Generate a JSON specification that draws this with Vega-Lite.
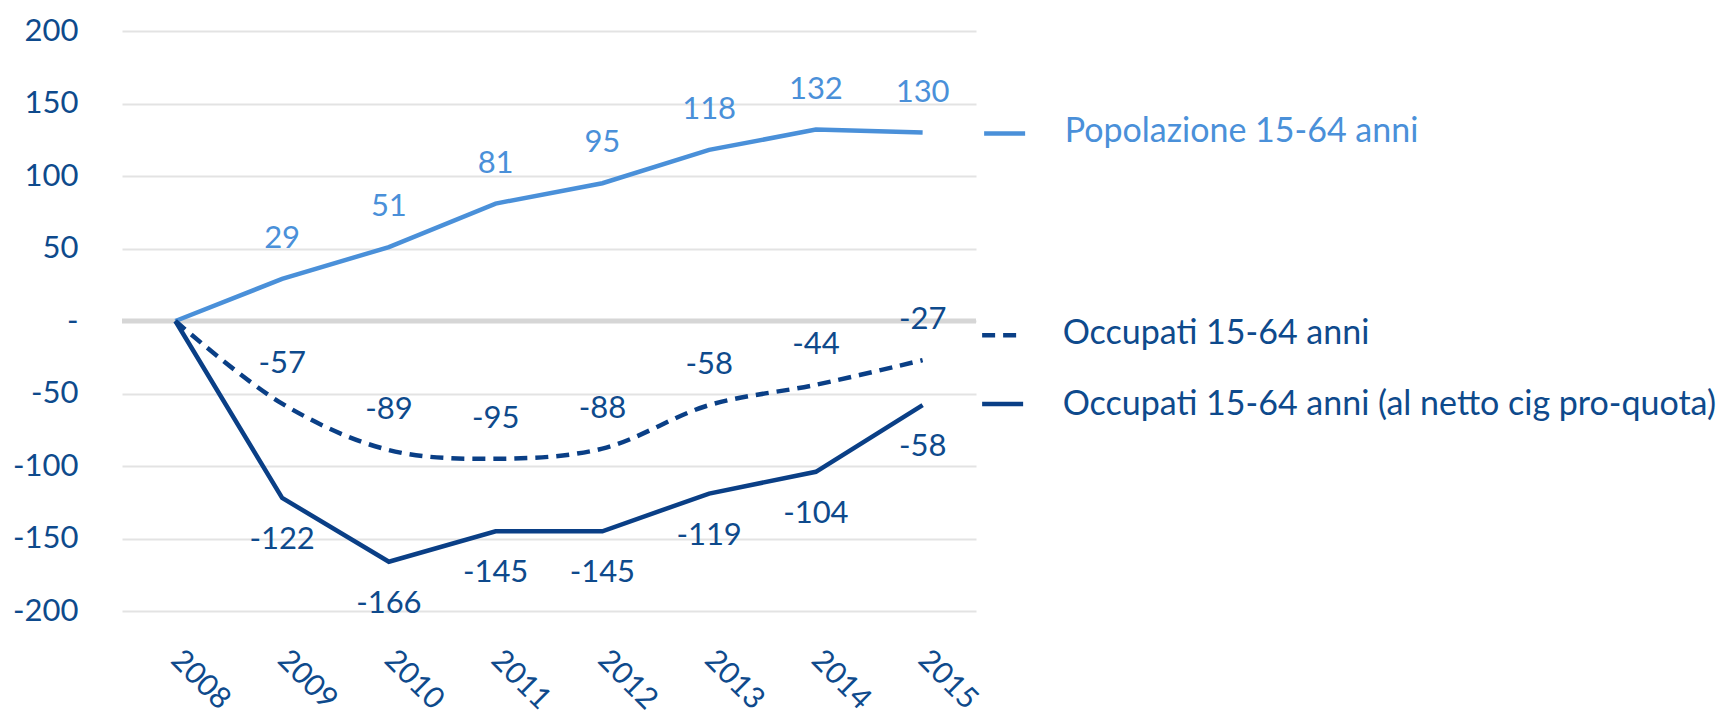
{
  "$schema": "https://vega.github.io/schema/vega-lite/v6.json",
  "width": 854,
  "height": 580,
  "padding": {"left": 12, "top": 15, "right": 5, "bottom": 0},
  "background": "white",
  "config": {"view": {"stroke": null}, "font": "Lato", "text": {"font": "Lato"}},
  "datasets": {
    "main": [
      {"year": 2008, "series": "Popolazione 15-64 anni", "value": 0},
      {"year": 2009, "series": "Popolazione 15-64 anni", "value": 29},
      {"year": 2010, "series": "Popolazione 15-64 anni", "value": 51},
      {"year": 2011, "series": "Popolazione 15-64 anni", "value": 81},
      {"year": 2012, "series": "Popolazione 15-64 anni", "value": 95},
      {"year": 2013, "series": "Popolazione 15-64 anni", "value": 118},
      {"year": 2014, "series": "Popolazione 15-64 anni", "value": 132},
      {"year": 2015, "series": "Popolazione 15-64 anni", "value": 130},
      {"year": 2008, "series": "Occupati 15-64 anni", "value": 0},
      {"year": 2009, "series": "Occupati 15-64 anni", "value": -57},
      {"year": 2010, "series": "Occupati 15-64 anni", "value": -89},
      {"year": 2011, "series": "Occupati 15-64 anni", "value": -95},
      {"year": 2012, "series": "Occupati 15-64 anni", "value": -88},
      {"year": 2013, "series": "Occupati 15-64 anni", "value": -58},
      {"year": 2014, "series": "Occupati 15-64 anni", "value": -44},
      {"year": 2015, "series": "Occupati 15-64 anni", "value": -27},
      {"year": 2008, "series": "Occupati 15-64 anni (al netto cig pro-quota)", "value": 0},
      {"year": 2009, "series": "Occupati 15-64 anni (al netto cig pro-quota)", "value": -122},
      {"year": 2010, "series": "Occupati 15-64 anni (al netto cig pro-quota)", "value": -166},
      {"year": 2011, "series": "Occupati 15-64 anni (al netto cig pro-quota)", "value": -145},
      {"year": 2012, "series": "Occupati 15-64 anni (al netto cig pro-quota)", "value": -145},
      {"year": 2013, "series": "Occupati 15-64 anni (al netto cig pro-quota)", "value": -119},
      {"year": 2014, "series": "Occupati 15-64 anni (al netto cig pro-quota)", "value": -104},
      {"year": 2015, "series": "Occupati 15-64 anni (al netto cig pro-quota)", "value": -58}
    ]
  },
  "data": {"name": "main"},
  "layer": [
    {
      "data": {"values": [{"ref": 0}]},
      "mark": {"type": "rule", "color": "#D6D6D6", "strokeWidth": 5},
      "encoding": {
        "y": {"field": "ref", "type": "quantitative", "scale": {"domain": [-200, 200], "nice": false, "zero": false},
          "axis": {"values": [-200, -150, -100, -50, 0, 50, 100, 150, 200], "title": null, "domain": false, "ticks": false, "tickSize": 0,
            "grid": true, "gridColor": "#E3E3E3", "gridWidth": 2, "labelFontSize": 31, "labelColor": "#0E4A8C", "labelPadding": 44,
            "labelExpr": "datum.value == 0 ? '-' : '' + datum.value"}}
      }
    },
    {
      "transform": [{"filter": "datum.series == 'Popolazione 15-64 anni'"}],
      "mark": {"type": "line", "color": "#4A90D9", "strokeWidth": 4.5},
      "encoding": {
        "x": {"field": "year", "type": "quantitative", "scale": {"domain": [2007.5, 2015.5], "nice": false, "zero": false},
          "axis": {"values": [2008, 2009, 2010, 2011, 2012, 2013, 2014, 2015], "format": "d", "title": null, "domain": false, "ticks": false, "tickSize": 0,
            "grid": false, "labelFontSize": 30, "labelColor": "#0E4A8C", "labelAngle": 45, "labelAlign": "left", "labelBaseline": "middle", "labelPadding": 44}},
        "y": {"field": "value", "type": "quantitative"}
      }
    },
    {
      "transform": [{"filter": "datum.series == 'Occupati 15-64 anni'"}],
      "mark": {"type": "line", "color": "#0A3F86", "strokeWidth": 4.5, "strokeDash": [13, 8], "interpolate": "catmull-rom"},
      "encoding": {
        "x": {"field": "year", "type": "quantitative"},
        "y": {"field": "value", "type": "quantitative"}
      }
    },
    {
      "transform": [{"filter": "datum.series == 'Occupati 15-64 anni (al netto cig pro-quota)'"}],
      "mark": {"type": "line", "color": "#0A3F86", "strokeWidth": 4.5},
      "encoding": {
        "x": {"field": "year", "type": "quantitative"},
        "y": {"field": "value", "type": "quantitative"}
      }
    },
    {
      "transform": [{"filter": "datum.series == 'Popolazione 15-64 anni' && datum.year > 2008"}],
      "mark": {"type": "text", "color": "#4A90D9", "fontSize": 31, "dy": -40, "baseline": "middle", "align": "center"},
      "encoding": {
        "x": {"field": "year", "type": "quantitative"},
        "y": {"field": "value", "type": "quantitative"},
        "text": {"field": "value", "type": "nominal"}
      }
    },
    {
      "transform": [{"filter": "datum.series == 'Occupati 15-64 anni' && datum.year > 2008"}],
      "mark": {"type": "text", "color": "#0E4A8C", "fontSize": 31, "dy": -40, "baseline": "middle", "align": "center"},
      "encoding": {
        "x": {"field": "year", "type": "quantitative"},
        "y": {"field": "value", "type": "quantitative"},
        "text": {"field": "value", "type": "nominal"}
      }
    },
    {
      "transform": [{"filter": "datum.series == 'Occupati 15-64 anni (al netto cig pro-quota)' && datum.year > 2008"}],
      "mark": {"type": "text", "color": "#0E4A8C", "fontSize": 31, "dy": 42, "baseline": "middle", "align": "center"},
      "encoding": {
        "x": {"field": "year", "type": "quantitative"},
        "y": {"field": "value", "type": "quantitative"},
        "text": {"field": "value", "type": "nominal"}
      }
    },
    {
      "transform": [{"filter": "datum.series == 'Popolazione 15-64 anni' && datum.year == 2015"}],
      "mark": {"type": "point", "shape": "M-1,0L1,0", "size": 1681, "filled": false, "opacity": 1, "stroke": "#4A90D9", "strokeWidth": 4.5, "xOffset": 82, "yOffset": 1},
      "encoding": {
        "x": {"field": "year", "type": "quantitative"},
        "y": {"field": "value", "type": "quantitative"}
      }
    },
    {
      "transform": [{"filter": "datum.series == 'Occupati 15-64 anni' && datum.year == 2015"}],
      "mark": {"type": "point", "shape": "M-1,0L1,0", "size": 1369, "filled": false, "opacity": 1, "stroke": "#0A3F86", "strokeWidth": 4.5, "strokeDash": [13, 8], "xOffset": 78, "yOffset": -25},
      "encoding": {
        "x": {"field": "year", "type": "quantitative"},
        "y": {"field": "value", "type": "quantitative"}
      }
    },
    {
      "transform": [{"filter": "datum.series == 'Occupati 15-64 anni (al netto cig pro-quota)' && datum.year == 2015"}],
      "mark": {"type": "point", "shape": "M-1,0L1,0", "size": 1681, "filled": false, "opacity": 1, "stroke": "#0A3F86", "strokeWidth": 4.5, "xOffset": 80, "yOffset": -1},
      "encoding": {
        "x": {"field": "year", "type": "quantitative"},
        "y": {"field": "value", "type": "quantitative"}
      }
    },
    {
      "transform": [{"filter": "datum.series == 'Popolazione 15-64 anni' && datum.year == 2015"}],
      "mark": {"type": "text", "color": "#4A90D9", "fontSize": 34, "align": "left", "baseline": "middle", "dx": 142, "dy": -1},
      "encoding": {
        "x": {"field": "year", "type": "quantitative"},
        "y": {"field": "value", "type": "quantitative"},
        "text": {"field": "series", "type": "nominal"}
      }
    },
    {
      "transform": [{"filter": "datum.series == 'Occupati 15-64 anni' && datum.year == 2015"}],
      "mark": {"type": "text", "color": "#0E4A8C", "fontSize": 34, "align": "left", "baseline": "middle", "dx": 140, "dy": -26},
      "encoding": {
        "x": {"field": "year", "type": "quantitative"},
        "y": {"field": "value", "type": "quantitative"},
        "text": {"field": "series", "type": "nominal"}
      }
    },
    {
      "transform": [{"filter": "datum.series == 'Occupati 15-64 anni (al netto cig pro-quota)' && datum.year == 2015"}],
      "mark": {"type": "text", "color": "#0E4A8C", "fontSize": 34, "align": "left", "baseline": "middle", "dx": 140, "dy": 0},
      "encoding": {
        "x": {"field": "year", "type": "quantitative"},
        "y": {"field": "value", "type": "quantitative"},
        "text": {"field": "series", "type": "nominal"}
      }
    }
  ]
}
